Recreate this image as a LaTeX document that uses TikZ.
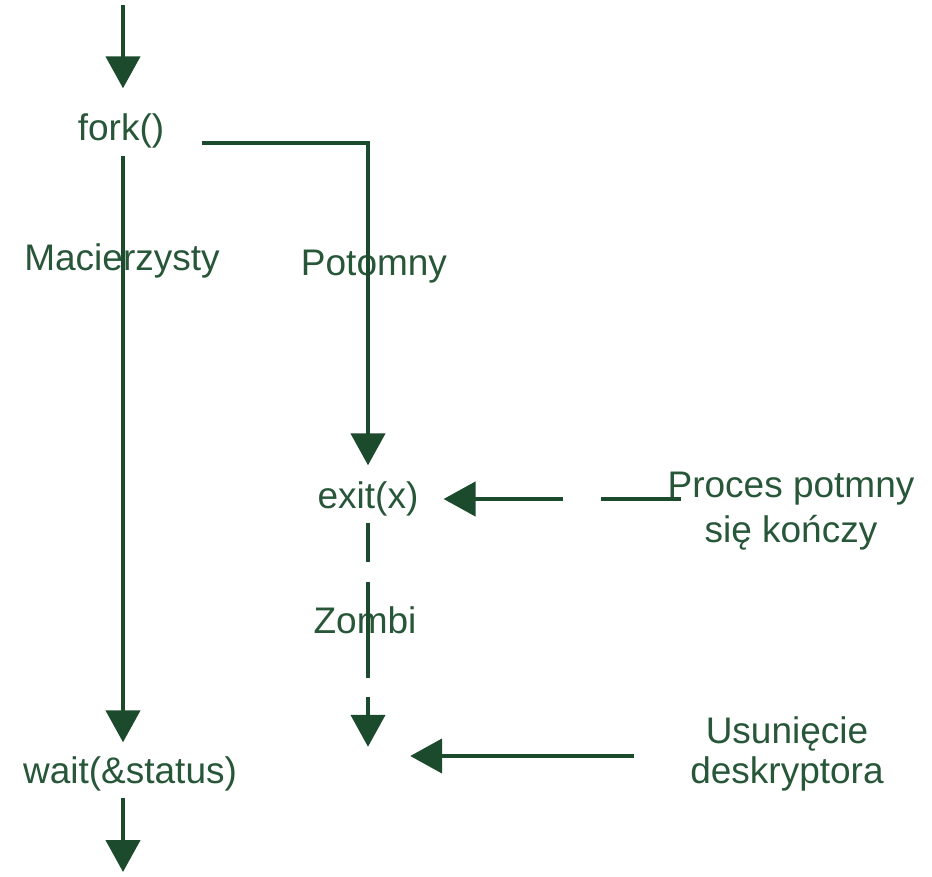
\documentclass[tikz,border=0pt]{standalone}
\usepackage{fontspec}
\setmainfont{Liberation Sans}
\usetikzlibrary{arrows.meta,calc}
\definecolor{gr}{RGB}{28,74,44}
\definecolor{grt}{RGB}{40,86,56}
\begin{document}
\begin{tikzpicture}[x=1pt,y=-1pt,
  lbl/.style={text=grt, font=\fontsize{37}{43}\selectfont, inner sep=0pt},
  fn/.style={lbl, text height=27pt, text depth=8pt},
  ln/.style={draw=gr, line width=4.5pt},
  arr/.style={ln, -{Triangle[length=32pt,width=34pt]}},
]
\useasboundingbox (0,0) rectangle (932,876);
\coordinate (top) at (123,5);
\coordinate (bot) at (123,872);
\node[fn] (fork) at (121,131) {fork()};
\node[fn] (wait) at (130,774) {wait(\&status)};
\node[fn] (exit) at (368,499) {exit(x)};
\node[lbl,anchor=base] (mac) at (122,270) {Macierzysty};
\node[lbl,anchor=base] (pot) at (374,275) {Potomny};
\node[lbl,anchor=base] (zom) at (365,633) {Zombi};
\node[lbl,align=center,anchor=base] (proc) at (791,542) {Proces potmny\\[2pt]się kończy};
\node[lbl,align=center,anchor=base] (usun) at (787,783) {Usunięcie\\[-3pt]deskryptora};
\node[minimum width=84pt, minimum height=18pt, inner sep=0pt] (rm) at (368,756) {};
\coordinate (g1) at (601,499);
\coordinate (g2) at (563,499);

\draw[arr] (top) -- ([yshift=25pt]fork.north -| top);
\draw[arr] ([yshift=-7pt]fork.south -| top) -- ([yshift=14pt]wait.north -| top);
\draw[arr] ([yshift=-6pt]wait.south -| top) -- (bot);
\draw[arr] ([xshift=38pt,yshift=-12pt]fork.east) -| ([yshift=16pt]exit.north);
\draw[arr, dash pattern=on 39pt off 20pt on 96pt off 19pt on 200pt] ([yshift=-6pt]exit.south) -- (rm.north);
\draw[ln] ([xshift=14pt]proc.west |- exit.east) -- (g1);
\draw[arr] (g2) -- ([xshift=25pt]exit.east);
\draw[arr] ([xshift=-56pt]usun.west |- rm.east) -- (rm.east);
\end{tikzpicture}
\end{document}
